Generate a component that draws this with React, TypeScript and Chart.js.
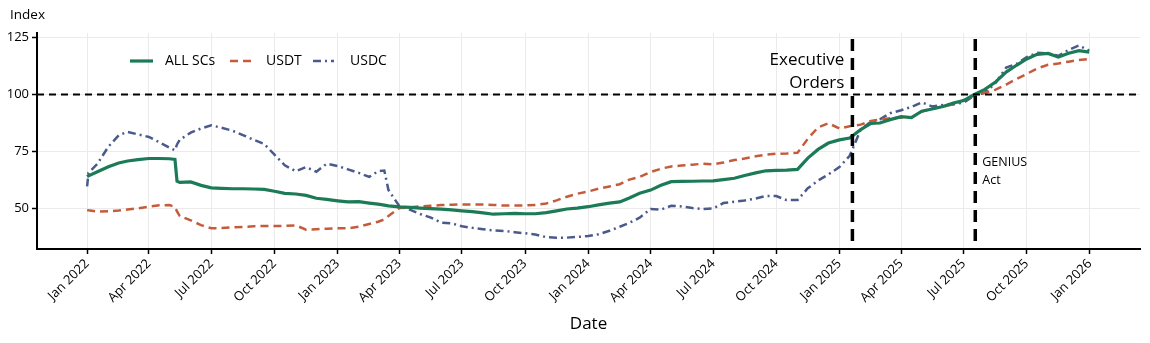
import { useEffect, useRef } from "react";
import { Chart, registerables } from "chart.js";

Chart.register(...registerables);

const dates = [
  "2022-01-01", "2022-01-03", "2022-01-16", "2022-02-01", "2022-02-16", "2022-03-01", "2022-03-16",
  "2022-04-01", "2022-04-16", "2022-05-01", "2022-05-09", "2022-05-12", "2022-05-16", "2022-06-01",
  "2022-06-16", "2022-07-01", "2022-07-16", "2022-08-01", "2022-08-16", "2022-09-01", "2022-09-16",
  "2022-10-01", "2022-10-16", "2022-11-01", "2022-11-16", "2022-12-01", "2022-12-16",
  "2023-01-01", "2023-01-16", "2023-02-01", "2023-02-16", "2023-03-01", "2023-03-10", "2023-03-16",
  "2023-04-01", "2023-04-16", "2023-05-01", "2023-05-16", "2023-06-01", "2023-06-16", "2023-07-01",
  "2023-07-16", "2023-08-01", "2023-08-16", "2023-09-01", "2023-09-16", "2023-10-01", "2023-10-16",
  "2023-11-01", "2023-11-16", "2023-12-01", "2023-12-16",
  "2024-01-01", "2024-01-16", "2024-02-01", "2024-02-16", "2024-03-01", "2024-03-16", "2024-04-01",
  "2024-04-16", "2024-05-01", "2024-05-16", "2024-06-01", "2024-06-16", "2024-07-01", "2024-07-16",
  "2024-08-01", "2024-08-16", "2024-09-01", "2024-09-16", "2024-10-01", "2024-10-16", "2024-11-01",
  "2024-11-16", "2024-12-01", "2024-12-16",
  "2025-01-01", "2025-01-16", "2025-02-01", "2025-02-16", "2025-03-01", "2025-03-16", "2025-04-01",
  "2025-04-16", "2025-05-01", "2025-05-16", "2025-06-01", "2025-06-16", "2025-07-01", "2025-07-16",
  "2025-08-01", "2025-08-16", "2025-09-01", "2025-09-16", "2025-10-01", "2025-10-16", "2025-11-01",
  "2025-11-16", "2025-12-01", "2025-12-16", "2025-12-31",
];

const allSCs = [
  63.8, 64.2, 66.0, 68.2, 69.8, 70.7, 71.3,
  71.8, 71.8, 71.7, 71.4, 61.8, 61.3, 61.5,
  60.0, 58.9, 58.7, 58.5, 58.5, 58.4, 58.2,
  57.4, 56.5, 56.2, 55.6, 54.3, 53.8,
  53.2, 52.7, 52.8, 52.2, 51.7, 51.3, 51.0,
  50.5, 50.3, 50.0, 49.8, 49.5, 49.2, 48.8,
  48.4, 47.9, 47.3, 47.5, 47.7, 47.5, 47.5,
  48.0, 48.8, 49.6, 50.0,
  50.6, 51.4, 52.2, 52.7, 54.4, 56.5, 57.9,
  60.0, 61.6, 61.7, 61.8, 61.9, 62.0, 62.5,
  63.1, 64.3, 65.5, 66.4, 66.6, 66.7, 67.0,
  72.0, 75.8, 78.6,
  80.0, 80.8, 84.5, 87.2, 87.4, 88.9, 90.2,
  89.8, 92.6, 93.6, 94.7, 96.2, 97.3, 99.9,
  102.2, 105.3, 109.8, 112.8, 115.6, 117.6, 118.0,
  116.4, 118.1, 119.2, 118.6,
];

const usdt = [
  49.1, 49.0, 48.5, 48.6, 48.9, 49.4, 49.9,
  50.6, 51.2, 51.3, 50.5, 48.5, 46.5, 44.6,
  42.5, 41.1, 41.2, 41.5, 41.7, 42.0, 42.1,
  42.1, 42.2, 42.4, 40.5, 40.7, 40.9,
  41.1, 41.1, 41.8, 43.0, 44.0, 45.0, 46.5,
  50.0, 50.3, 50.7, 51.0, 51.3, 51.5, 51.6,
  51.6, 51.6, 51.4, 51.1, 51.1, 51.2, 51.4,
  52.0, 53.4, 55.0, 56.3,
  57.3, 58.5, 59.5, 60.5, 62.5, 63.7, 65.9,
  67.3, 68.3, 68.7, 69.1, 69.5, 69.2, 70.0,
  71.1, 71.8, 72.8, 73.5, 73.9, 74.0, 74.3,
  80.5, 85.5, 87.3,
  85.0, 86.0, 86.7, 88.3, 88.9, 89.5, 89.8,
  89.8, 92.5, 93.7, 94.6, 95.6, 97.5, 99.4,
  100.7, 102.0, 104.3, 106.8, 109.0, 111.4, 113.0,
  113.6, 114.4, 115.1, 115.6,
];

const usdc = [
  59.5, 65.5, 69.5, 77.0, 82.0, 83.5, 82.4,
  81.3, 79.0, 76.6, 75.4, 78.0, 80.0, 83.2,
  85.0, 86.4, 85.3, 84.0, 82.1, 80.0, 78.2,
  73.5, 68.8, 66.2, 68.0, 66.0, 69.5,
  68.5, 67.0, 65.5, 63.7, 66.2, 66.5, 58.0,
  50.8, 49.3, 47.4, 45.9, 43.6, 43.3, 42.0,
  41.3, 40.7, 40.2, 39.9, 39.4, 38.9, 38.4,
  37.2, 37.0, 37.0, 37.3,
  37.7, 38.5, 40.0, 41.8, 43.5, 45.8, 49.6,
  49.3, 51.0, 50.7, 50.0, 49.6, 49.8, 52.2,
  52.8, 53.3, 54.2, 55.3, 55.3, 53.5, 53.5,
  58.7, 62.1, 64.8,
  68.0, 73.0, 84.4, 88.0, 89.0, 91.7, 93.0,
  94.5, 96.5, 94.7, 95.3, 95.6, 96.4, 99.3,
  100.8, 104.8, 111.8, 113.4, 116.4, 118.3, 118.0,
  117.0, 119.6, 121.5, 119.3,
];

const seriesNames = ["ALL SCs", "USDT", "USDC"];
const seriesColors = ["#1b7b57", "#c45c3c", "#4b5a8c"];

const tickDates = [
  "2022-01-01", "2022-04-01", "2022-07-01", "2022-10-01",
  "2023-01-01", "2023-04-01", "2023-07-01", "2023-10-01",
  "2024-01-01", "2024-04-01", "2024-07-01", "2024-10-01",
  "2025-01-01", "2025-04-01", "2025-07-01", "2025-10-01",
  "2026-01-01",
];
const tickLabels = [
  "Jan 2022", "Apr 2022", "Jul 2022", "Oct 2022",
  "Jan 2023", "Apr 2023", "Jul 2023", "Oct 2023",
  "Jan 2024", "Apr 2024", "Jul 2024", "Oct 2024",
  "Jan 2025", "Apr 2025", "Jul 2025", "Oct 2025",
  "Jan 2026",
];
const yTicks = [50, 75, 100, 125];
const referenceLevel = 100;
const eventDates = ["2025-01-20", "2025-07-18"];
const eventLabels = [["Executive", "Orders"], ["GENIUS", "Act"]];

const FONT = "'Open Sans', 'Noto Sans', sans-serif";

const dayOf = (s: string) => {
  const [y, m, d] = s.split("-").map(Number);
  return (Date.UTC(y, m - 1, d) - Date.UTC(2022, 0, 1)) / 86400000;
};

const tickDays = tickDates.map(dayOf);

const dashes: number[][] = [[], [8, 5], [8, 4, 2, 4]];
const widths = [3.2, 2.5, 2.5];

const overlayPlugin = {
  id: "overlay",
  afterDatasetsDraw(chart: any) {
    const { ctx, chartArea, scales } = chart;
    const xs = scales.x;
    const ys = scales.y;
    ctx.save();
    // horizontal reference line
    const y100 = ys.getPixelForValue(referenceLevel);
    ctx.strokeStyle = "#000";
    ctx.lineWidth = 2;
    ctx.setLineDash([7, 5]);
    ctx.beginPath();
    ctx.moveTo(chartArea.left, y100);
    ctx.lineTo(chartArea.right, y100);
    ctx.stroke();
    // event lines
    ctx.lineWidth = 3.5;
    ctx.setLineDash([12, 7]);
    eventDates.forEach((d) => {
      const x = xs.getPixelForValue(dayOf(d));
      ctx.beginPath();
      ctx.moveTo(x, chartArea.top + 6);
      ctx.lineTo(x, chartArea.bottom);
      ctx.stroke();
    });
    ctx.setLineDash([]);
    // event labels
    ctx.fillStyle = "#000";
    const x0 = xs.getPixelForValue(dayOf(eventDates[0]));
    ctx.font = `17px ${FONT}`;
    ctx.textAlign = "right";
    ctx.textBaseline = "middle";
    ctx.fillText(eventLabels[0][0], x0 - 8, 60);
    ctx.fillText(eventLabels[0][1], x0 - 8, 83);
    const x1 = xs.getPixelForValue(dayOf(eventDates[1]));
    ctx.font = `12.5px ${FONT}`;
    ctx.textAlign = "left";
    ctx.fillText(eventLabels[1][0], x1 + 7, 162);
    ctx.fillText(eventLabels[1][1], x1 + 7, 180);
    // legend
    const legendY = 61;
    const samples = [
      [130, 153, 165],
      [230, 253, 266],
      [313, 334, 350],
    ];
    ctx.font = `14px ${FONT}`;
    ctx.textAlign = "left";
    ctx.textBaseline = "middle";
    samples.forEach(([a, b, t], i) => {
      ctx.strokeStyle = seriesColors[i];
      ctx.lineWidth = widths[i];
      ctx.setLineDash(dashes[i]);
      ctx.beginPath();
      ctx.moveTo(a, legendY);
      ctx.lineTo(b, legendY);
      ctx.stroke();
      ctx.setLineDash([]);
      ctx.fillStyle = "#000";
      ctx.fillText(seriesNames[i], t, legendY);
    });
    // y-axis title
    ctx.font = `13.5px ${FONT}`;
    ctx.fillText("Index", 10, 15);
    ctx.restore();
  },
};

export default function App() {
  const ref = useRef<HTMLCanvasElement | null>(null);

  useEffect(() => {
    if (!ref.current) return;
    const seriesValues = [allSCs, usdt, usdc];
    const chart = new Chart(ref.current, {
      type: "line",
      data: {
        datasets: seriesValues.map((vals, i) => ({
          label: seriesNames[i],
          data: dates.map((d, j) => ({ x: dayOf(d), y: vals[j] })),
          borderColor: seriesColors[i],
          backgroundColor: seriesColors[i],
          borderWidth: widths[i],
          borderDash: dashes[i],
          pointRadius: 0,
          tension: 0,
          fill: false,
        })),
      },
      options: {
        animation: false,
        responsive: false,
        maintainAspectRatio: false,
        layout: { padding: { top: 33, right: 10, left: 0, bottom: 0 } },
        plugins: { legend: { display: false }, tooltip: { enabled: false } },
        scales: {
          x: {
            type: "linear",
            min: -73,
            max: 1534,
            afterBuildTicks: (scale: any) => {
              scale.ticks = tickDays.map((v) => ({ value: v }));
            },
            afterFit: (scale: any) => {
              scale.height = 94;
            },
            ticks: {
              autoSkip: false,
              minRotation: 45,
              maxRotation: 45,
              padding: 2,
              color: "#000",
              font: { family: FONT, size: 13 },
              callback: (v: any) => {
                const i = tickDays.indexOf(Number(v));
                return i >= 0 ? tickLabels[i] : "";
              },
            },
            grid: {
              color: "#ebebeb",
              lineWidth: 1,
              tickColor: "#000",
              tickLength: 5,
              tickWidth: 1.5,
            },
            border: { display: true, color: "#000", width: 2 },
            title: {
              display: true,
              text: "Date",
              color: "#000",
              font: { family: FONT, size: 17 },
              padding: { top: 0, bottom: 9 },
            },
          },
          y: {
            type: "linear",
            min: 32,
            max: 127,
            afterBuildTicks: (scale: any) => {
              scale.ticks = yTicks.map((v) => ({ value: v }));
            },
            afterFit: (scale: any) => {
              scale.width = 37;
            },
            ticks: {
              padding: 3,
              color: "#000",
              font: { family: FONT, size: 13 },
            },
            grid: {
              color: "#ebebeb",
              lineWidth: 1,
              tickColor: "#000",
              tickLength: 5,
              tickWidth: 1.5,
            },
            border: { display: true, color: "#000", width: 2 },
          },
        },
      },
      plugins: [overlayPlugin],
    } as any);
    return () => chart.destroy();
  }, []);

  return (
    <div style={{ position: "absolute", left: 0, top: 0, width: 1150, height: 343, background: "#fff" }}>
      <canvas ref={ref} width={1150} height={343} style={{ width: 1150, height: 343 }} />
    </div>
  );
}
